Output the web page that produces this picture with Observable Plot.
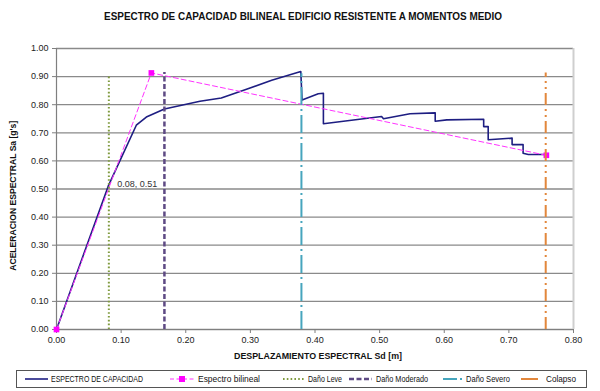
<!DOCTYPE html>
<html><head><meta charset="utf-8">
<script src="https://cdn.jsdelivr.net/npm/d3@7"></script>
<script src="https://cdn.jsdelivr.net/npm/@observablehq/plot@0.6"></script>
<style>
body{margin:0;background:#fff;font-family:"Liberation Sans",Arial,sans-serif;}
#wrap{position:relative;width:600px;height:391px;overflow:hidden;background:#fff;}
#wrap svg{position:absolute;left:0;top:0;}
.abs{position:absolute;white-space:nowrap;line-height:1;color:#111;}
</style></head><body><div id="wrap"></div>
<script>
// ---- data ----
const title = "ESPECTRO DE CAPACIDAD BILINEAL EDIFICIO  RESISTENTE A MOMENTOS  MEDIO";
const xLabel = "DESPLAZAMIENTO ESPECTRAL  Sd [m]";
const yLabel = "ACELERACION  ESPECTRAL  Sa [g's]";
const xTicks = [0, 0.1, 0.2, 0.3, 0.4, 0.5, 0.6, 0.7, 0.8];
const yTicks = [0, 0.1, 0.2, 0.3, 0.4, 0.5, 0.6, 0.7, 0.8, 0.9, 1.0];
const capSd = [0, 0.080, 0.1235, 0.139, 0.167, 0.222, 0.255, 0.294, 0.333, 0.378, 0.380, 0.405, 0.413, 0.413, 0.503, 0.506, 0.547, 0.586, 0.586, 0.604, 0.661, 0.661, 0.668, 0.668, 0.705, 0.705, 0.722, 0.722, 0.730, 0.758];
const capSa = [0, 0.510, 0.727, 0.756, 0.785, 0.812, 0.824, 0.855, 0.887, 0.918, 0.817, 0.839, 0.841, 0.732, 0.758, 0.750, 0.768, 0.771, 0.741, 0.746, 0.748, 0.722, 0.722, 0.675, 0.681, 0.658, 0.658, 0.627, 0.623, 0.623];
const bilSd = [0, 0.1468, 0.758];
const bilSa = [0, 0.913, 0.620];
const damageNames = ["Daño Leve", "Daño Moderado", "Daño Severo", "Colapso"];
const damageSd = [0.081, 0.167, 0.379, 0.757];
const damageTop = [0.905, 0.915, 0.910, 0.913];
const annotText = "0.08, 0.51";
const annotSd = 0.08, annotSa = 0.51;
const seriesNames = ["ESPECTRO  DE CAPACIDAD", "Espectro bilineal"];

// ---- styles ----
const capColor = "#1e1e82", bilColor = "#ff33ff";
const dmgStyle = [
  {stroke: "#7f9a3e", width: 2, dash: "1.6,2.2"},
  {stroke: "#5e4a84", width: 2.5, dash: "5,2.5"},
  {stroke: "#46a5bd", width: 2, dash: "18,4,2,4"},
  {stroke: "#e2873c", width: 2, dash: "12,4,2,4,2,4"}
];

const cap = capSd.map((x, i) => ({x, y: capSa[i]}));
const bil = bilSd.map((x, i) => ({x, y: bilSa[i]}));
const dmg = damageSd.map((x, i) => ({x, top: damageTop[i], i}));

const marks = [
  Plot.ruleY(yTicks, {stroke: "#8a8a8a", strokeWidth: 1.3}),
  Plot.ruleX([0.8], {stroke: "#cfcfcf", strokeWidth: 2}),
  Plot.ruleX([0], {stroke: "#7f7f7f", strokeWidth: 1.2}),
  Plot.ruleY([0], {stroke: "#7f7f7f", strokeWidth: 1.2}),
  Plot.axisY({ticks: yTicks, tickFormat: d => d.toFixed(2), tickSize: 4, tickPadding: 4, stroke: "#7f7f7f", fill: "#222", label: null}),
  Plot.axisX({ticks: xTicks, tickFormat: d => d.toFixed(2), tickSize: 4, tickPadding: 3, stroke: "#7f7f7f", fill: "#222", label: null}),
  Plot.line(cap, {x: "x", y: "y", stroke: capColor, strokeWidth: 1.6}),
  Plot.line(bil, {x: "x", y: "y", stroke: bilColor, strokeWidth: 1, strokeDasharray: "5,3"}),
  Plot.dot(bil, {x: "x", y: "y", symbol: "square", fill: "#ff00ff", r: 3.2})
];
dmg.forEach(d => {
  const s = dmgStyle[d.i];
  marks.push(Plot.ruleX([d], {x: "x", y1: 0, y2: "top", stroke: s.stroke, strokeWidth: s.width, strokeDasharray: s.dash}));
});
marks.push(Plot.text([{x: annotSd, y: annotSa, t: annotText}], {x: "x", y: "y", text: "t", textAnchor: "start", dx: 9, dy: -2, fill: "#333", fontSize: 9}));

const chart = Plot.plot({
  width: 600, height: 368,
  marginTop: 48, marginLeft: 56, marginRight: 27, marginBottom: 39,
  style: {fontFamily: "Liberation Sans, Arial, sans-serif", fontSize: "9px", background: "transparent"},
  x: {domain: [0, 0.8]},
  y: {domain: [0, 1]},
  marks
});
const wrap = document.getElementById("wrap");
wrap.appendChild(chart);

// ---- text helpers ----
function place(text, left, cy, size, weight, targetW) {
  const s = document.createElement("div");
  s.className = "abs"; s.textContent = text;
  s.style.fontSize = size + "px"; s.style.fontWeight = weight;
  wrap.appendChild(s);
  const r = s.getBoundingClientRect();
  s.style.left = left + "px"; s.style.top = (cy - r.height / 2) + "px";
  if (targetW) { s.style.transformOrigin = "0 50%"; s.style.transform = `scaleX(${targetW / r.width})`; }
  return s;
}
function center(text, cx, cy, size, weight, targetW) {
  return place(text, cx - targetW / 2, cy, size, weight, targetW);
}
center(title, 303, 17, 10, "bold", 398);
center(xLabel, 318, 356, 9.5, "bold", 168);
{
  const s = document.createElement("div");
  s.className = "abs"; s.textContent = yLabel;
  s.style.fontSize = "9.5px"; s.style.fontWeight = "bold";
  wrap.appendChild(s);
  const r = s.getBoundingClientRect();
  const target = 150;
  s.style.left = (13 - r.width / 2) + "px"; s.style.top = (196 - r.height / 2) + "px";
  s.style.transformOrigin = "50% 50%";
  s.style.transform = `rotate(-90deg) scaleX(${target / r.width})`;
}

// ---- legend ----
const box = document.createElement("div");
box.style.cssText = "position:absolute;left:16px;top:370px;width:569px;height:16px;border:1px solid #555;";
wrap.appendChild(box);
const ly = 379;
function sample(x0, x1, stroke, width, dash, square) {
  const ns = "http://www.w3.org/2000/svg";
  const svg = document.createElementNS(ns, "svg");
  svg.setAttribute("width", x1 - x0 + 8); svg.setAttribute("height", 10);
  svg.style.cssText = `position:absolute;left:${x0 - 4}px;top:${ly - 5}px;`;
  const l = document.createElementNS(ns, "line");
  l.setAttribute("x1", 4); l.setAttribute("x2", x1 - x0 + 4); l.setAttribute("y1", 5); l.setAttribute("y2", 5);
  l.setAttribute("stroke", stroke); l.setAttribute("stroke-width", width);
  if (dash) l.setAttribute("stroke-dasharray", dash);
  svg.appendChild(l);
  if (square) {
    const r = document.createElementNS(ns, "rect");
    const cx = (x1 - x0) / 2 + 4;
    r.setAttribute("x", cx - 3); r.setAttribute("y", 2); r.setAttribute("width", 6); r.setAttribute("height", 6);
    r.setAttribute("fill", "#ff00ff"); svg.appendChild(r);
  }
  wrap.appendChild(svg);
}
sample(25, 48, capColor, 1.6, null, false);
place(seriesNames[0], 51, ly, 9, "normal", 92);
sample(170, 194, bilColor, 1, "4,2.5", true);
place(seriesNames[1], 198, ly, 9, "normal", 62);
const legX = [[283, 305, 308, 34], [349, 372, 376, 52], [443, 462, 466, 44], [521, 538, 546, 30]];
legX.forEach((p, i) => {
  const s = dmgStyle[i];
  sample(p[0], p[1], s.stroke, s.width, i === 2 ? "14,3,2,3" : i === 3 ? null : s.dash, false);
  place(damageNames[i], p[2], ly, 9, "normal", p[3]);
});
</script></body></html>
